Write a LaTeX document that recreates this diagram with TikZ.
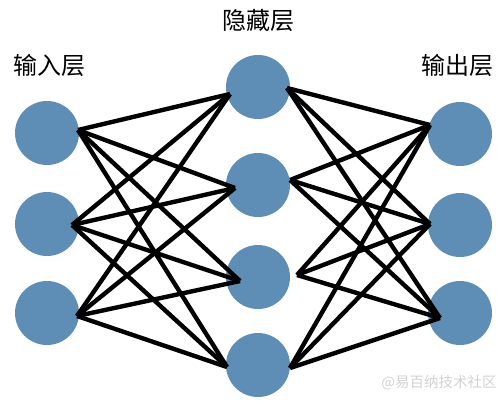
\documentclass[tikz,border=0pt]{standalone}
\usepackage{fontspec}
\newfontfamily\cjk{Noto Sans CJK SC}
\definecolor{neuron}{HTML}{5E8EB5}
\begin{document}
\begin{tikzpicture}[x=1bp,y=-1bp,
  neuronnode/.style={circle,fill=neuron,draw=none,minimum size=64bp,inner sep=0pt},
  edge/.style={line width=4.4bp,black,line cap=butt,line join=miter},
  layerlabel/.style={font=\cjk\fontsize{24bp}{27bp}\selectfont,inner sep=0pt},
  wm/.style={font=\cjk\fontsize{14.5bp}{16bp}\selectfont,text=gray!35,inner sep=0pt}]
\useasboundingbox (0,0) rectangle (497,400);
% neurons
\node[neuronnode] (I1) at (47,133) {};
\node[neuronnode] (I2) at (47,224) {};
\node[neuronnode] (I3) at (47,313) {};
\node[neuronnode] (H1) at (258,87) {};
\node[neuronnode] (H2) at (258,185) {};
\node[neuronnode] (H3) at (258,277) {};
\node[neuronnode] (H4) at (258,365) {};
\node[neuronnode] (O1) at (460,134) {};
\node[neuronnode] (O2) at (460,225) {};
\node[neuronnode] (O3) at (460,313) {};
% attach points
\coordinate (I1r) at (78,130);
\coordinate (I2r) at (72,225);
\coordinate (I3r) at (77,316);
\coordinate (H1l) at (230,94);
\coordinate (H2l) at (235,188);
\coordinate (H3l) at (240,281);
\coordinate (H4l) at (227,367);
\coordinate (H1r) at (287,88);
\coordinate (H2r) at (290,180);
\coordinate (H3r) at (297,275);
\coordinate (H4r) at (290,368);
\coordinate (O1l) at (430,125);
\coordinate (O2l) at (430,224);
\coordinate (O3l) at (440,318);
% connections
\foreach \i in {1,2,3}{
  \foreach \h in {1,2,3,4}{
    \draw[edge] (I\i r) -- (H\h l);
    \draw[edge] (H\h r) -- (O\i l);
  }
}
% labels
\node[layerlabel] (lh) at (258,20) {隐藏层};
\node[layerlabel] (li) at (49,65) {输入层};
\node[layerlabel] (lo) at (457,65) {输出层};
\node[wm] (w) at (439,383) {@易百纳技术社区};
\end{tikzpicture}
\end{document}
